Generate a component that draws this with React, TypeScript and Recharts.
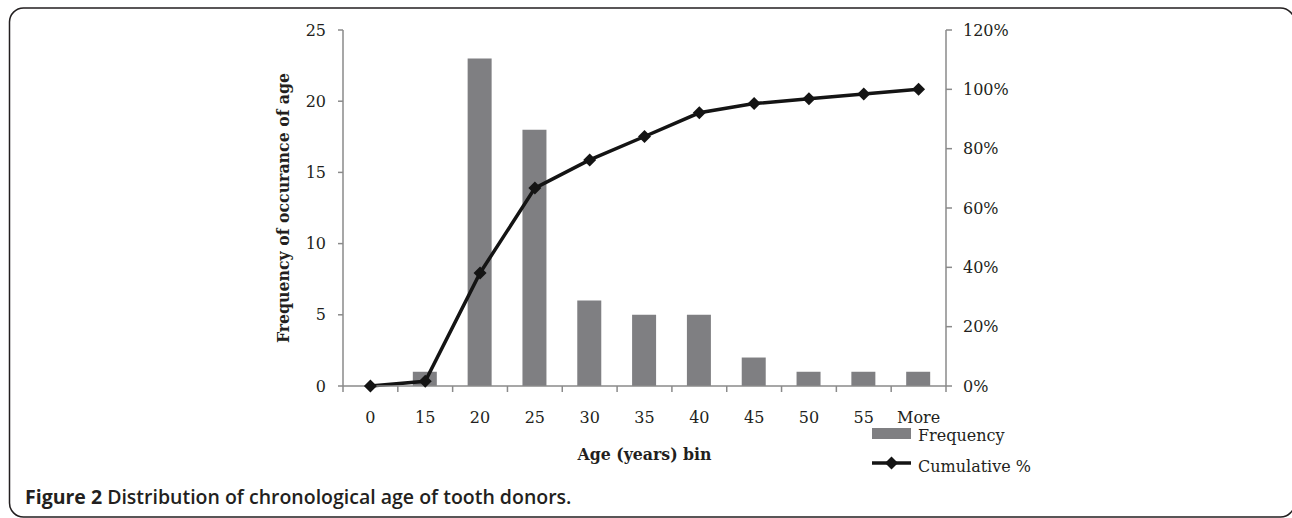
import { Bar, ComposedChart, Legend, Line, XAxis, YAxis } from "recharts";

const ageBins = ["0", "15", "20", "25", "30", "35", "40", "45", "50", "55", "More"];
const frequency = [0, 1, 23, 18, 6, 5, 5, 2, 1, 1, 1];
const cumulativePct = [0, 1.6, 38.1, 66.7, 76.2, 84.1, 92.1, 95.2, 96.8, 98.4, 100];
const frequencyTicks = [0, 5, 10, 15, 20, 25];
const percentTicks = [0, 20, 40, 60, 80, 100, 120];

const BAR_COLOR = "#7f7f82";
const LINE_COLOR = "#141414";
const AXIS_COLOR = "#8a8a8a";
const TEXT_COLOR = "#231f20";
const SERIF = "'DejaVu Serif', serif";
const SERIF_BOLD = "'DejaVu Serif Condensed', 'DejaVu Serif', serif";

const CHART_W = 1292;
const CHART_H = 518;
const MARGIN = { bottom: 92, left: 283, right: 266, top: 30 };
const LEFT_AXIS_W = 60;
const RIGHT_AXIS_W = 80;
const PLOT_W = CHART_W - MARGIN.left - MARGIN.right - LEFT_AXIS_W - RIGHT_AXIS_W;

const rows = ageBins.map((bin, i) => ({
  bin,
  frequency: frequency[i],
  cumulative: cumulativePct[i]
}));

const Diamond = ({ cx, cy }: any) => {
  if (cx == null || cy == null) return null;
  const r = 6.5;
  return <polygon fill={LINE_COLOR} points={`${cx},${cy - r} ${cx + r},${cy} ${cx},${cy + r} ${cx - r},${cy}`} />;
};

// tick marks sit on the category boundaries, labels in the middle
const renderBinTick = (props: any) => {
  const { x, y, payload, index } = props;
  const half = PLOT_W / ageBins.length / 2;
  const left = Number(x) - half;
  const right = Number(x) + half;
  const top = Number(y);
  return (
    <g key={`bin-${index}`}>
      <path d={`M${left},${top}L${left},${top + 6}`} stroke={AXIS_COLOR} strokeWidth={1.5} />
      {index === ageBins.length - 1 && <path d={`M${right},${top}L${right},${top + 6}`} stroke={AXIS_COLOR} strokeWidth={1.5} />}
      <text fill={TEXT_COLOR} fontFamily={SERIF} fontSize={16} textAnchor="middle" x={x} y={top + 37}>
        {payload.value}
      </text>
    </g>
  );
};

const LegendBox = ({ payload }: any) => {
  const items = [...(payload ?? [])].sort((a: any, b: any) => (a.type === "rect" ? -1 : 1) - (b.type === "rect" ? -1 : 1));
  return (
    <svg height={60} width={220}>
      {items.map((entry: any, i: number) => {
        const cy = i === 0 ? 14 : 43;
        return (
          <g key={entry.value}>
            {entry.type === "rect" ? (
              <rect fill={BAR_COLOR} height={11} width={39} x={0} y={cy - 6} />
            ) : (
              <g>
                <line stroke={LINE_COLOR} strokeWidth={3.5} x1={0} x2={39} y1={cy} y2={cy} />
                <Diamond cx={19.5} cy={cy} />
              </g>
            )}
            <text fill={TEXT_COLOR} fontFamily={SERIF} fontSize={16} x={46} y={cy + (i === 0 ? 7 : 9)}>
              {entry.value}
            </text>
          </g>
        );
      })}
    </svg>
  );
};

export default function App() {
  return (
    <div style={{ background: "#fff", height: CHART_H, left: 0, position: "absolute", top: 0, width: CHART_W }}>
      <svg height={CHART_H} style={{ left: 0, position: "absolute", top: 0 }} width={CHART_W}>
        <rect fill="none" height={509} rx={14} stroke={TEXT_COLOR} strokeWidth={1.5} width={1285} x={9.5} y={8} />
        <text fill={TEXT_COLOR} fontFamily="'Open Sans', sans-serif" fontSize={19.5} x={25} y={504}>
          <tspan fontWeight="bold">Figure 2</tspan>
          <tspan fontWeight={600}> Distribution of chronological age of tooth donors.</tspan>
        </text>
      </svg>
      <div style={{ left: 0, position: "absolute", top: 0 }}>
        <ComposedChart data={rows} height={CHART_H} margin={MARGIN} width={CHART_W}>
          <XAxis
            axisLine={{ stroke: AXIS_COLOR, strokeWidth: 1.5 }}
            dataKey="bin"
            height={40}
            label={({ viewBox }: any) => (
              <text
                fill={TEXT_COLOR}
                fontFamily={SERIF_BOLD}
                fontSize={17.5}
                fontWeight="bold"
                textAnchor="middle"
                x={viewBox.x + viewBox.width / 2}
                y={viewBox.y + 74}
              >
                Age (years) bin
              </text>
            )}
            tick={renderBinTick}
            tickLine={false}
            tickMargin={0}
            tickSize={0}
          />
          <YAxis
            axisLine={{ stroke: AXIS_COLOR, strokeWidth: 1.5 }}
            domain={[0, 25]}
            label={({ viewBox }: any) => (
              <text
                fill={TEXT_COLOR}
                fontFamily={SERIF_BOLD}
                fontSize={17.5}
                fontWeight="bold"
                textAnchor="middle"
                transform={`translate(${viewBox.x + 6}, ${viewBox.y + viewBox.height / 2}) rotate(-90)`}
                x={0}
                y={0}
              >
                Frequency of occurance of age
              </text>
            )}
            tick={{ fill: TEXT_COLOR, fontFamily: SERIF, fontSize: 16 }}
            tickLine={{ stroke: AXIS_COLOR, strokeWidth: 1.5 }}
            tickMargin={12}
            tickSize={5}
            ticks={frequencyTicks}
            width={LEFT_AXIS_W}
            yAxisId="freq"
          />
          <YAxis
            axisLine={{ stroke: AXIS_COLOR, strokeWidth: 1.5 }}
            domain={[0, 120]}
            orientation="right"
            tick={{ fill: TEXT_COLOR, fontFamily: SERIF, fontSize: 16 }}
            tickFormatter={(v: number) => `${v}%`}
            tickLine={{ stroke: AXIS_COLOR, strokeWidth: 1.5 }}
            tickMargin={11}
            tickSize={6}
            ticks={percentTicks}
            width={RIGHT_AXIS_W}
            yAxisId="pct"
          />
          <Legend
            align="center"
            content={<LegendBox />}
            layout="vertical"
            verticalAlign="middle"
            wrapperStyle={{ left: 872, top: 420, width: 220, height: 60 }}
          />
          <Bar barSize={24} dataKey="frequency" fill={BAR_COLOR} isAnimationActive={false} legendType="rect" name="Frequency" yAxisId="freq" />
          <Line
            dataKey="cumulative"
            dot={<Diamond />}
            isAnimationActive={false}
            legendType="line"
            name="Cumulative %"
            stroke={LINE_COLOR}
            strokeWidth={3.5}
            type="linear"
            yAxisId="pct"
          />
        </ComposedChart>
      </div>
    </div>
  );
}
